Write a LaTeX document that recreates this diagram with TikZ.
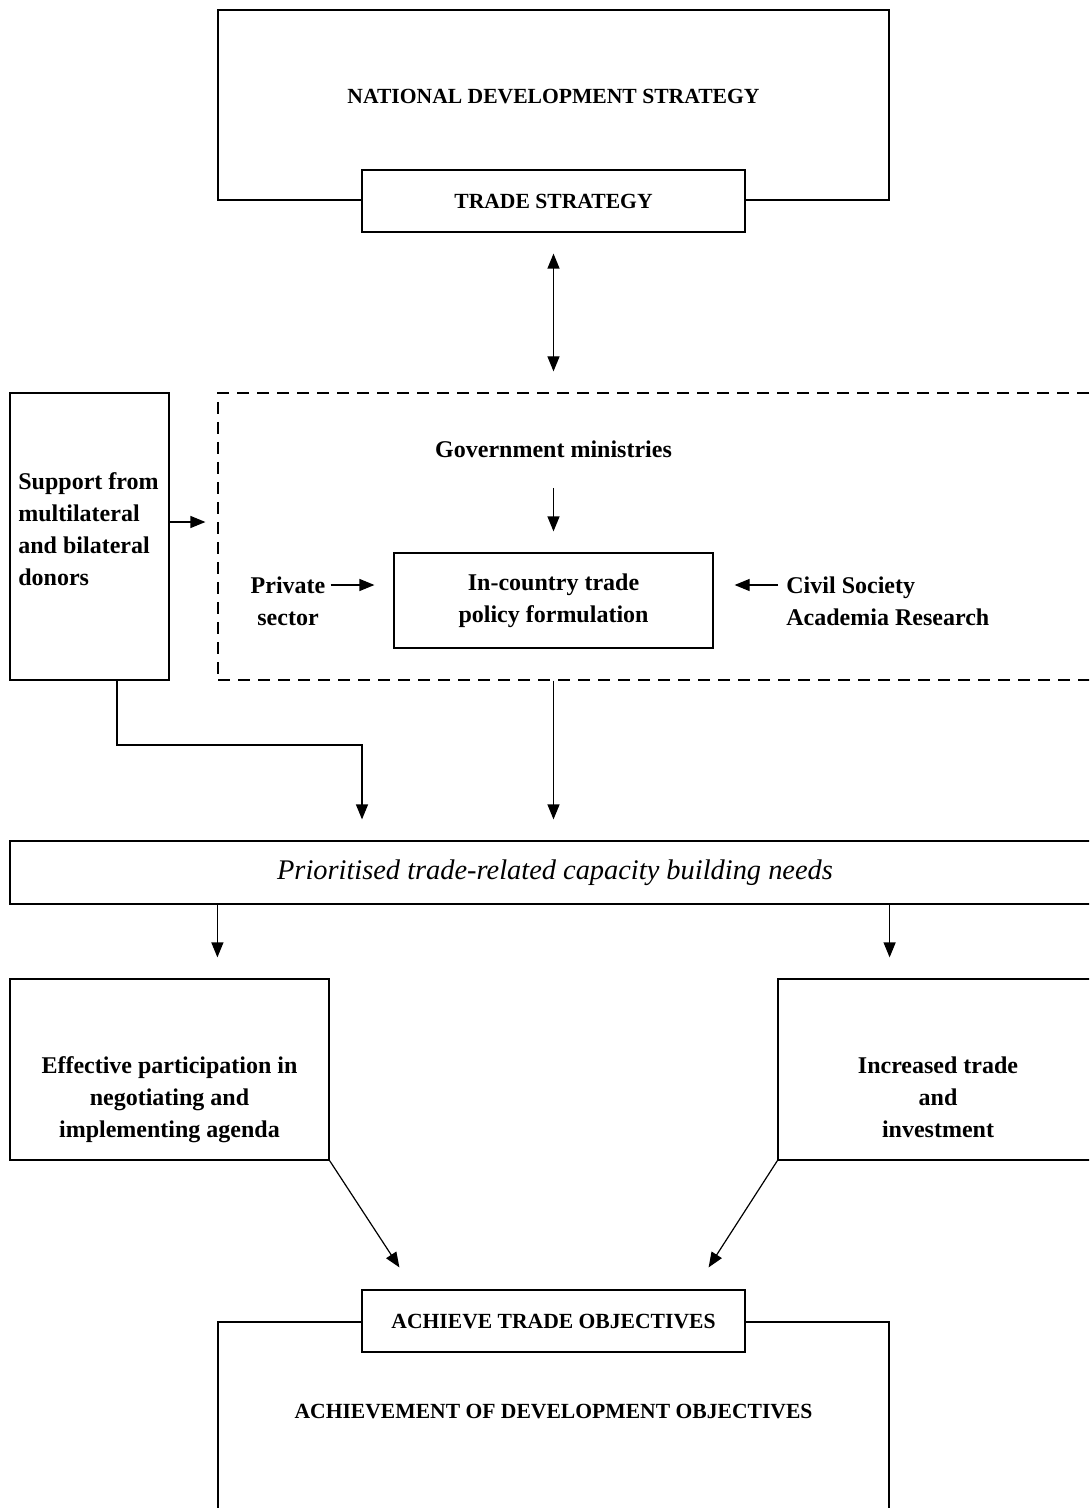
\documentclass[tikz,border=0pt]{standalone}
\usepackage{fontspec}
\setmainfont{Liberation Serif}
\usetikzlibrary{arrows.meta,calc}

\begin{document}
\begin{tikzpicture}[x=0.5pt,y=-0.5pt,
    box/.style={draw,line width=0.6pt,fill=white,inner sep=0pt},
    lbl/.style={inner sep=0pt,align=center,font=\labelfont},
    arr/.style={line width=0.6pt,-{Triangle[length=7.5pt,width=6pt]}},
    dblarr/.style={line width=0.6pt,{Triangle[length=7.5pt,width=6pt]}-{Triangle[length=7.5pt,width=6pt]}}]
    \providecommand{\capsfont}{\bfseries\fontsize{10.8}{14}\selectfont}
    \providecommand{\labelfont}{\bfseries\fontsize{12}{16}\selectfont}
    \providecommand{\needsfont}{\itshape\fontsize{14.2}{18}\selectfont}
    \clip (0,0) rectangle (1089,1508);
    % top: strategy boxes
    \node[box,minimum width=335.5pt,minimum height=95pt] (nds) at (553.5,105) {};
    \node[lbl,font=\capsfont] (ndstxt) at (553.5,97) {NATIONAL DEVELOPMENT STRATEGY};
    \node[box,minimum width=191.5pt,minimum height=31pt,font=\capsfont] (ts) at (553.5,201) {TRADE STRATEGY};
    % middle: policy formulation
    \node[box,minimum width=79.5pt,minimum height=143.5pt] (sup) at (89.5,536.5) {};
    \node[lbl,align=left,anchor=west] (suptxt) at (18,529) {Support from\\multilateral\\and bilateral\\donors};
    \node[box,dash pattern=on 6pt off 4pt,fill=none,minimum width=441pt,minimum height=143.5pt] (frame) at (659,536.5) {};
    \node[lbl] (gov) at (553.5,449) {Government ministries};
    \node[box,minimum width=159.5pt,minimum height=47.5pt,align=center,font=\labelfont] (pol) at (553.5,600.5)
        {In-country trade\\policy formulation};
    \node[lbl] (priv) at (288,601) {Private\\sector};
    \node[lbl,align=left,anchor=west] (civ) at (786,601) {Civil Society\\Academia Research};
    \coordinate (elbow) at (362,745);
    % needs and results
    \node[box,minimum width=545pt,minimum height=31.5pt,font=\needsfont] (prio) at (555,872.5)
        {Prioritised trade-related capacity building needs};
    \node[box,minimum width=159.5pt,minimum height=90.5pt,
        label={[lbl,yshift=-15pt]center:Effective participation in\\negotiating and\\implementing agenda}] (eff) at (169.5,1069.5) {};
    \node[box,minimum width=160pt,minimum height=90.5pt,
        label={[lbl,yshift=-13.75pt]center:Increased trade\\and\\investment}] (inc) at (938,1069.5) {};
    % bottom: objectives
    \node[box,minimum width=335.5pt,minimum height=109pt] (ado) at (553.5,1431) {};
    \node[lbl,font=\capsfont] (adotxt) at (553.5,1411) {ACHIEVEMENT OF DEVELOPMENT OBJECTIVES};
    \node[box,minimum width=191.5pt,minimum height=31pt,font=\capsfont] (ato) at (553.5,1321) {ACHIEVE TRADE OBJECTIVES};
    % connectors
    \draw[dblarr,shorten <=10.5pt,shorten >=10.5pt] (ts.south) -- (ts.south |- frame.north);
    \draw[arr,shorten >=6pt] ([yshift=7.25pt]sup.east) -- ([yshift=7.25pt]sup.east -| frame.west);
    \draw[arr,shorten <=15pt,shorten >=10.5pt] (gov.south) -- (pol.north);
    \draw[arr,shorten <=2.5pt,shorten >=9.5pt] ([yshift=8pt]priv.east) -- ([yshift=7.75pt]pol.west);
    \draw[arr,shorten <=4pt,shorten >=10.5pt] ([yshift=8pt]civ.west) -- ([yshift=7.75pt]pol.east);
    \draw[arr,shorten >=10.5pt] (pol.south |- frame.south) -- (pol.south |- prio.north);
    \draw[arr,shorten >=10.5pt] ([xshift=13.75pt]sup.south) |- (elbow) -- (elbow |- prio.north);
    \draw[arr,shorten >=10.5pt] (prio.south -| nds.west) -- (eff.north -| nds.west);
    \draw[arr,shorten >=10.5pt] (prio.south -| nds.east) -- (inc.north -| nds.east);
    \draw[arr] (eff.south east) -- ($(ato.north west)+(38,-22)$);
    \draw[arr] (inc.south west) -- ($(ato.north east)+(-37,-22)$);
\end{tikzpicture}
\end{document}
